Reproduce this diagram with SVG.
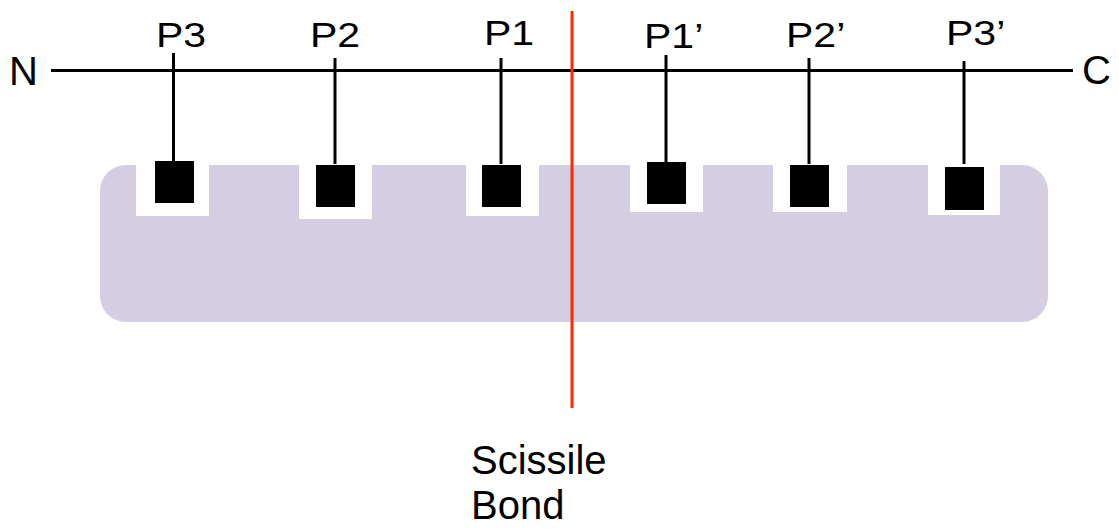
<svg xmlns="http://www.w3.org/2000/svg" width="1119" height="529" viewBox="0 0 1119 529">
<style>
.lbl{font-family:"Liberation Sans",Arial,Helvetica,sans-serif;fill:#000}
.pl{font-size:36px}
.big{font-size:40px}
.ln{stroke:#000;stroke-width:3;fill:none}
.pocket{fill:#fff}
.res{fill:#000}
</style>
<rect width="1119" height="529" fill="#fff"/>
<g id="enzyme">
<rect x="100" y="165" width="948" height="157" rx="26" ry="26" fill="#D5CDE1"/>
</g>
<g id="connectors">
<line class="ln" x1="51" y1="70.5" x2="1073" y2="70.5"/>
<line class="ln" x1="173.5" y1="53" x2="173.5" y2="162"/>
<line class="ln" x1="335" y1="58" x2="335" y2="166"/>
<line class="ln" x1="501" y1="58" x2="501" y2="166"/>
<line class="ln" x1="666" y1="55" x2="666" y2="163"/>
<line class="ln" x1="809" y1="58" x2="809" y2="166"/>
<line class="ln" x1="964" y1="61" x2="964" y2="168"/>
<line x1="572" y1="11" x2="572" y2="408" stroke="#FF2A00" stroke-width="3"/>
</g>
<g id="S3">
<rect class="pocket" x="136" y="164" width="73" height="52"/>
<rect class="res" x="155" y="161" width="39" height="42"/>
<text class="lbl pl" transform="translate(156,47) scale(1.14,1)">P3</text>
</g>
<g id="S2">
<rect class="pocket" x="299" y="164" width="73" height="55"/>
<rect class="res" x="316" y="165" width="39" height="42"/>
<text class="lbl pl" transform="translate(310,47) scale(1.14,1)">P2</text>
</g>
<g id="S1">
<rect class="pocket" x="466" y="164" width="73" height="52"/>
<rect class="res" x="482" y="165" width="39" height="42"/>
<text class="lbl pl" transform="translate(484,45) scale(1.14,1)">P1</text>
</g>
<g id="S1p">
<rect class="pocket" x="630" y="164" width="73" height="48"/>
<rect class="res" x="647" y="162" width="39" height="42"/>
<text class="lbl pl" transform="translate(644,48) scale(1.14,1)">P1’</text>
</g>
<g id="S2p">
<rect class="pocket" x="773" y="164" width="74" height="48"/>
<rect class="res" x="790" y="165" width="39" height="42"/>
<text class="lbl pl" transform="translate(786,47) scale(1.14,1)">P2’</text>
</g>
<g id="S3p">
<rect class="pocket" x="928" y="164" width="72" height="51"/>
<rect class="res" x="945" y="167" width="39" height="43"/>
<text class="lbl pl" transform="translate(946,45) scale(1.14,1)">P3’</text>
</g>
<g id="N">
<text class="lbl big" x="9" y="85">N</text>
</g>
<g id="C">
<text class="lbl big" x="1082" y="84">C</text>
</g>
<g id="scissile">
<text class="lbl big" x="471" y="474">Scissile</text>
<text class="lbl big" x="471" y="519">Bond</text>
</g>
</svg>
